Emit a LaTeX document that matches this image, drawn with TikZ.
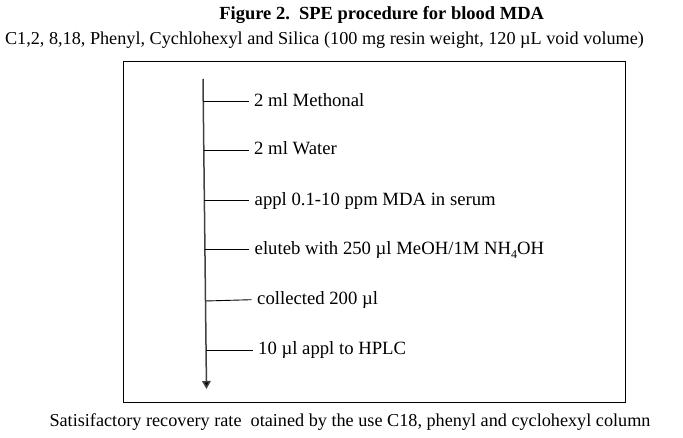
\documentclass[tikz,border=0pt]{standalone}
\usepackage{fontspec}
\setmainfont{Liberation Serif}
\usetikzlibrary{arrows.meta,calc}
\begin{document}
\begin{tikzpicture}[x=1pt,y=-1pt,
  lbl/.style={anchor=base west,inner xsep=5.5pt,inner ysep=0pt,font=\fontsize{18.7}{20}\selectfont},
  captext/.style={anchor=base,inner sep=0pt,font=\fontsize{18.2}{20}\selectfont},
  branch/.style={line width=0.9pt,black},
  mainline/.style={line width=1.5pt,black!75,-{Triangle[width=8.5pt,length=8pt,fill=black]}}]
\useasboundingbox (0,0) rectangle (683,438);
% frame
\node[draw=black,line width=1pt,minimum width=502pt,minimum height=341pt,inner sep=0pt,anchor=north west] (frame) at (123,61) {};
% titles
\node[captext,font=\bfseries\fontsize{18.5}{20}\selectfont] (title) at (381.7,20) {Figure 2.\ \ SPE procedure for blood MDA};
\node[captext] (sub) at (324.5,45) {C1,2, 8,18, Phenyl, Cychlohexyl and Silica (100 mg resin weight, 120 µL void volume)};
\node[captext] (foot) at (350,426.7) {Satisifactory recovery rate\ \ otained by the use C18, phenyl and cyclohexyl column};
% main arrow
\coordinate (top) at (203,79);
\coordinate (bot) at (206.5,389);
\draw[mainline] (top) -- (bot);
% branch points
\coordinate (s1) at (203.3,101.7);
\coordinate (s2) at (203.8,150);
\coordinate (s3) at (204.4,200.7);
\coordinate (s4) at (204.9,249.3);
\coordinate (s5) at (205.5,301);
\coordinate (s6) at (206.1,350);
% labels
\node[lbl] (m1) at (248.5,106.7) {2 ml Methonal};
\node[lbl] (m2) at (248.5,155) {2 ml Water};
\node[lbl] (m3) at (249,205.7) {appl 0.1-10 ppm MDA in serum};
\node[lbl] (m4) at (249,254.3) {eluteb with 250 µl MeOH/1M NH\raisebox{-0.45ex}{\fontsize{12}{12}\selectfont 4}OH};
\node[lbl] (m5) at (251.5,305) {collected 200 µl};
\node[lbl] (m6) at (252.5,355) {10 µl appl to HPLC};
% connectors
\draw[branch] (s1) -- (s1 -| m1.west);
\draw[branch] (s2) -- (s2 -| m2.west);
\draw[branch] (s3) -- (s3 -| m3.west);
\draw[branch] (s4) -- (s4 -| m4.west);
\draw[branch] (s5) -- ($(s5 -| m5.west)+(0,-1.3)$);
\draw[branch] (s6) -- (s6 -| m6.west);
\end{tikzpicture}
\end{document}
